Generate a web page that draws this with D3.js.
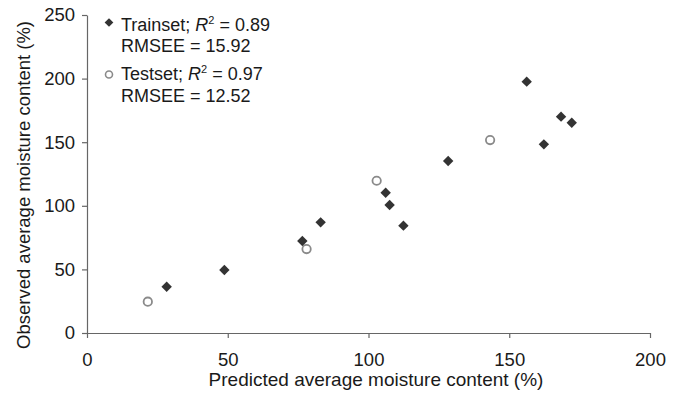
<!DOCTYPE html>
<html>
<head>
<meta charset="utf-8">
<script src="https://cdn.jsdelivr.net/npm/d3@7"></script>
<style>
  html, body { margin: 0; padding: 0; background: #fff; }
  svg { display: block; font-family: "Liberation Sans", Arial, Helvetica, sans-serif; }
</style>
</head>
<body>
<svg id="chart" width="680" height="394"></svg>
<script>
// Data (predicted, observed)
const trainPredicted = [28.3, 48.8, 76.5, 83.0, 106.1, 107.5, 112.4, 128.3, 156.2, 162.3, 168.4, 172.2];
const trainObserved  = [36.4, 49.5, 72.3, 87.0, 110.3, 100.6, 84.4, 135.2, 197.6, 148.3, 170.1, 165.3];
const testPredicted  = [21.6, 78.0, 102.9, 143.2];
const testObserved   = [24.6, 66.0, 119.7, 151.7];
const xTicks = [0, 50, 100, 150, 200];
const yTicks = [0, 50, 100, 150, 200, 250];
const legendTrain = ["Trainset; ", "R", "2", " = 0.89", "RMSEE = 15.92"];
const legendTest  = ["Testset; ", "R", "2", " = 0.97", "RMSEE = 12.52"];
const xTitle = "Predicted average moisture content (%)";
const yTitle = "Observed average moisture content (%)";

const svg = d3.select("#chart");
const plotLeft = 87, plotRight = 650, plotTop = 15, plotBottom = 333;
const x = d3.scaleLinear().domain([0, 200]).range([plotLeft, plotRight]);
const y = d3.scaleLinear().domain([0, 250]).range([plotBottom, plotTop]);

const axisColor = "#666";
const textColor = "#1a1a1a";

// X axis
const gx = svg.append("g").attr("transform", `translate(0,${plotBottom})`)
  .call(d3.axisBottom(x).tickValues(xTicks).tickSize(5).tickPadding(15).tickSizeOuter(0));
gx.select(".domain").attr("stroke", axisColor).attr("stroke-width", 1.2);
gx.selectAll(".tick line").attr("stroke", axisColor).attr("stroke-width", 1.2);
gx.selectAll(".tick text").attr("fill", textColor).attr("font-size", 18.5)
  .attr("font-family", "Liberation Sans, Arial, sans-serif").attr("dy", "0.71em");

// Y axis
const gy = svg.append("g").attr("transform", `translate(${plotLeft},0)`)
  .call(d3.axisLeft(y).tickValues(yTicks).tickSize(5).tickPadding(7).tickSizeOuter(0));
gy.select(".domain").attr("stroke", axisColor).attr("stroke-width", 1.2);
gy.selectAll(".tick line").attr("stroke", axisColor).attr("stroke-width", 1.2);
gy.selectAll(".tick text").attr("fill", textColor).attr("font-size", 18.5)
  .attr("font-family", "Liberation Sans, Arial, sans-serif");

// Axis titles
svg.append("text").attr("x", 376).attr("y", 386).attr("text-anchor", "middle")
  .attr("font-size", 19).attr("fill", textColor).text(xTitle);
svg.append("text").attr("transform", "translate(30,185) rotate(-90)").attr("text-anchor", "middle")
  .attr("font-size", 18.5).attr("fill", textColor).text(yTitle);

// Test points (open circles)
svg.append("g").selectAll("circle").data(testPredicted.map((p, i) => [p, testObserved[i]]))
  .join("circle")
  .attr("cx", d => x(d[0])).attr("cy", d => y(d[1])).attr("r", 4.2)
  .attr("fill", "#fff").attr("stroke", "#8a8a8a").attr("stroke-width", 1.8);

// Train points (diamonds)
const diamond = d3.symbol().type(d3.symbolSquare).size(54);
svg.append("g").selectAll("path").data(trainPredicted.map((p, i) => [p, trainObserved[i]]))
  .join("path")
  .attr("d", diamond)
  .attr("transform", d => `translate(${x(d[0])},${y(d[1])}) rotate(45)`)
  .attr("fill", "#333");

// Legend
function legendText(lines, y1, y2) {
  const t = svg.append("text").attr("x", 121).attr("y", y1).attr("font-size", 18).attr("fill", textColor);
  t.append("tspan").text(lines[0]);
  t.append("tspan").attr("font-style", "italic").text(lines[1]);
  t.append("tspan").attr("font-size", 11).attr("dy", -7).text(lines[2]);
  t.append("tspan").attr("dy", 7).text(lines[3]);
  svg.append("text").attr("x", 121).attr("y", y2).attr("font-size", 18).attr("fill", textColor).text(lines[4]);
}
svg.append("path").attr("d", d3.symbol().type(d3.symbolSquare).size(38))
  .attr("transform", "translate(109,22.5) rotate(45)").attr("fill", "#333");
legendText(legendTrain, 31, 52);
svg.append("circle").attr("cx", 109).attr("cy", 74.5).attr("r", 3.5)
  .attr("fill", "#fff").attr("stroke", "#8a8a8a").attr("stroke-width", 1.6);
legendText(legendTest, 80, 102);
</script>
</body>
</html>
